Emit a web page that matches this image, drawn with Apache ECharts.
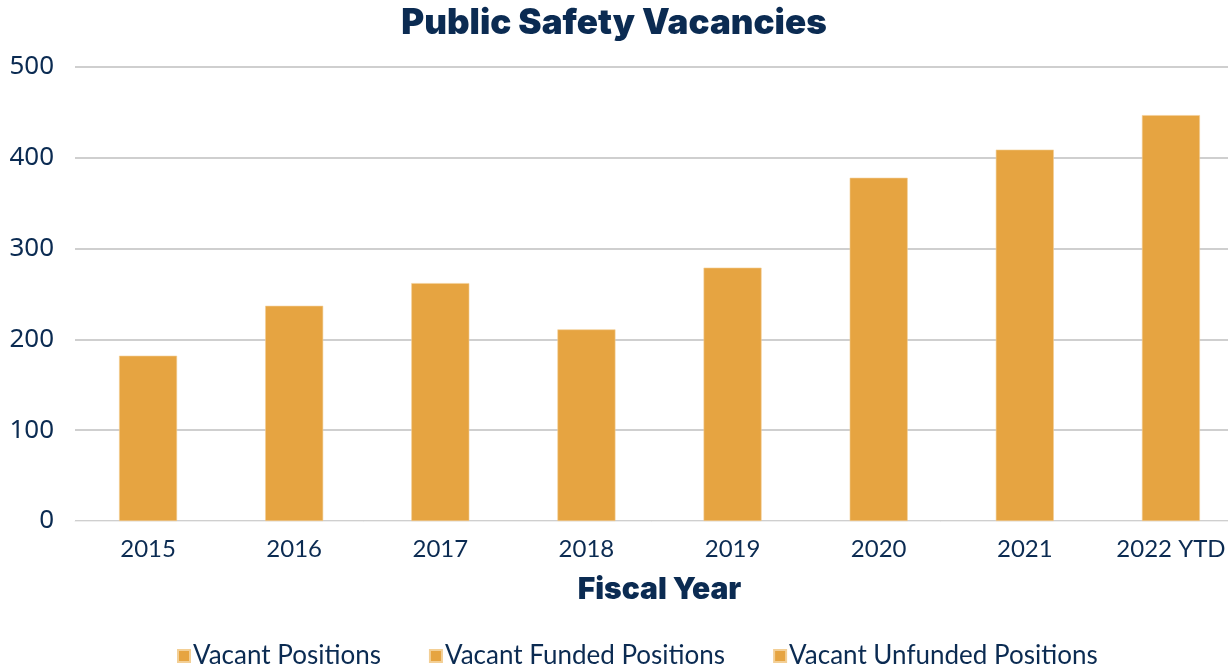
<!DOCTYPE html>
<html>
<head>
<meta charset="utf-8">
<script src="https://cdn.jsdelivr.net/npm/echarts@6/dist/echarts.min.js"></script>
<style>
  html, body { margin: 0; padding: 0; background: #ffffff; }
  #chart { width: 1228px; height: 669px; }
</style>
</head>
<body>
<div id="chart"></div>
<script>
// Fiscal years on the category axis
const years = ['2015', '2016', '2017', '2018', '2019', '2020', '2021', '2022 YTD'];
// Total vacant public safety positions per year
const vacantPositions = [182, 237, 262, 211, 279, 378, 409, 447];
// Funded / unfunded breakdowns (listed in the legend, no values plotted)
const vacantFunded = [];
const vacantUnfunded = [];
// Value-axis ticks
const yTicks = [0, 100, 200, 300, 400, 500];

const navy = '#0b2b52';
const gold = '#E6A441';

const chart = echarts.init(document.getElementById('chart'), null, { renderer: 'canvas' });

const barStyle = { color: gold, borderColor: '#f3cf95', borderWidth: 0.6 };

chart.setOption({
  backgroundColor: '#ffffff',
  animation: false,
  title: {
    text: 'Public Safety Vacancies',
    left: 'center',
    top: 1,
    textStyle: {
      fontFamily: 'Inter',
      fontWeight: 900,
      fontSize: 35,
      color: navy
    }
  },
  legend: {
    bottom: -5,
    left: 172,
    itemWidth: 12,
    itemHeight: 12,
    itemGap: 48,
    icon: 'rect',
    textStyle: { fontFamily: 'Lato', fontSize: 26, color: navy, padding: [0, 0, 0, -2] },
    data: ['Vacant Positions', 'Vacant Funded Positions', 'Vacant Unfunded Positions']
  },
  grid: {
    left: 75,
    width: 1169,
    top: 67,
    bottom: 148,
    outerBoundsMode: 'none',
    containLabel: false
  },
  xAxis: {
    type: 'category',
    data: years,
    name: 'Fiscal Year',
    nameLocation: 'middle',
    nameGap: 54,
    nameTextStyle: {
      fontFamily: 'Inter',
      fontWeight: 900,
      fontSize: 30,
      color: navy
    },
    axisLine: { show: true, lineStyle: { color: '#eeeeee', width: 1 } },
    axisTick: { show: false },
    axisLabel: {
      fontFamily: 'Lato',
      fontSize: 24,
      color: navy,
      margin: 16
    }
  },
  yAxis: {
    type: 'value',
    min: yTicks[0],
    max: yTicks[yTicks.length - 1],
    interval: 100,
    axisLine: { show: false },
    axisTick: { show: false },
    splitLine: { lineStyle: { color: '#bfbfbf', width: 1.5 } },
    axisLabel: {
      fontFamily: '"Noto Sans", sans-serif',
      fontSize: 26,
      color: navy,
      margin: 21
    }
  },
  series: [
    {
      name: 'Vacant Positions',
      type: 'bar',
      stack: 'vacancies',
      barWidth: 58,
      itemStyle: barStyle,
      data: vacantPositions
    },
    {
      name: 'Vacant Funded Positions',
      type: 'bar',
      stack: 'vacancies',
      barWidth: 58,
      itemStyle: barStyle,
      data: vacantFunded
    },
    {
      name: 'Vacant Unfunded Positions',
      type: 'bar',
      stack: 'vacancies',
      barWidth: 58,
      itemStyle: barStyle,
      data: vacantUnfunded
    }
  ]
});
</script>
</body>
</html>
